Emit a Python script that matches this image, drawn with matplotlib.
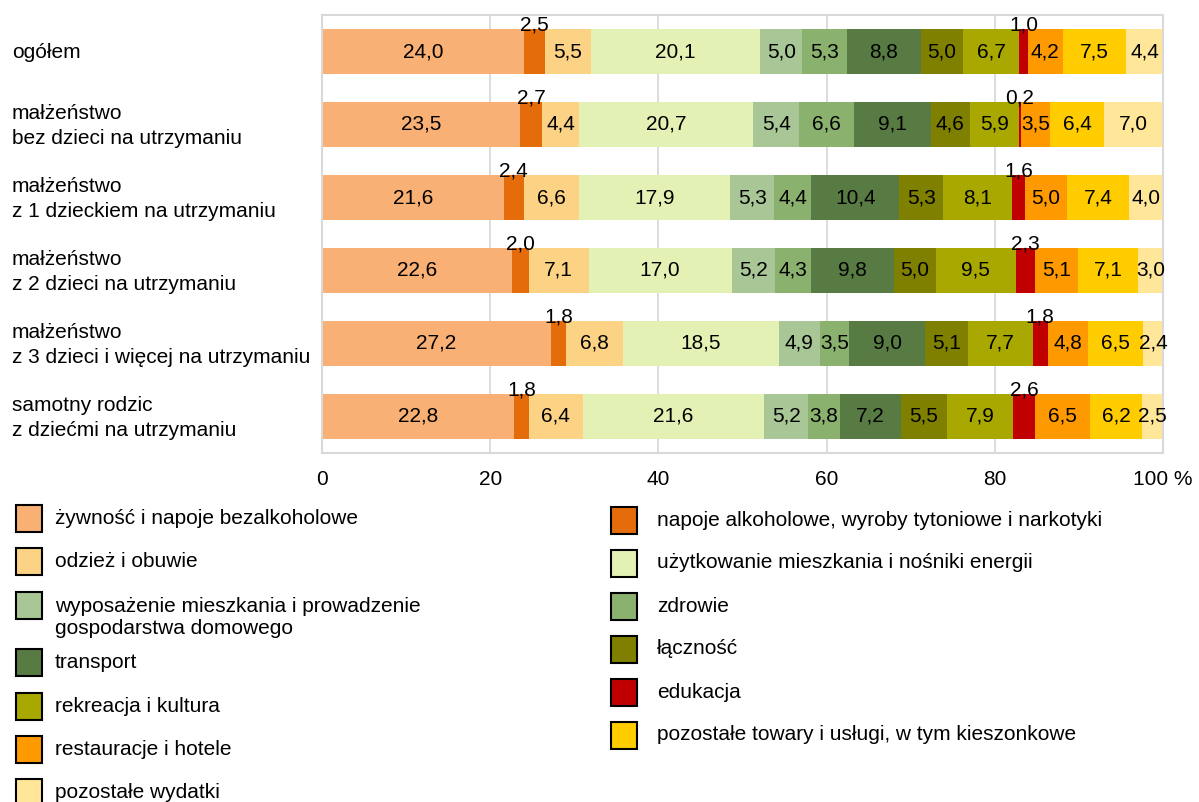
import matplotlib
matplotlib.use('Agg')
import matplotlib.pyplot as plt
import matplotlib.patches as patches
import matplotlib.transforms as mtransforms
import numpy as np

W, H = 1199, 802

plt.rcParams['font.family'] = ['Liberation Sans', 'DejaVu Sans']
plt.rcParams['font.size'] = 15

groups = [
    'ogółem',
    'małżeństwo\nbez dzieci na utrzymaniu',
    'małżeństwo\nz 1 dzieckiem na utrzymaniu',
    'małżeństwo\nz 2 dzieci na utrzymaniu',
    'małżeństwo\nz 3 dzieci i więcej na utrzymaniu',
    'samotny rodzic\nz dziećmi na utrzymaniu',
]

categories = [
    'żywność i napoje bezalkoholowe',
    'napoje alkoholowe, wyroby tytoniowe i narkotyki',
    'odzież i obuwie',
    'użytkowanie mieszkania i nośniki energii',
    'wyposażenie mieszkania i prowadzenie\ngospodarstwa domowego',
    'zdrowie',
    'transport',
    'łączność',
    'rekreacja i kultura',
    'edukacja',
    'restauracje i hotele',
    'pozostałe towary i usługi, w tym kieszonkowe',
    'pozostałe wydatki',
]

colors = ['#F8B074', '#E46C0A', '#FCD384', '#E3F2B4', '#A9C796', '#8AB26E',
          '#587A43', '#7F7F00', '#A8A800', '#C00000', '#FF9900', '#FFCC00',
          '#FFE699']

ogolem = [24.0, 2.5, 5.5, 20.1, 5.0, 5.3, 8.8, 5.0, 6.7, 1.0, 4.2, 7.5, 4.4]
bez_dzieci = [23.5, 2.7, 4.4, 20.7, 5.4, 6.6, 9.1, 4.6, 5.9, 0.2, 3.5, 6.4, 7.0]
jedno_dziecko = [21.6, 2.4, 6.6, 17.9, 5.3, 4.4, 10.4, 5.3, 8.1, 1.6, 5.0, 7.4, 4.0]
dwoje_dzieci = [22.6, 2.0, 7.1, 17.0, 5.2, 4.3, 9.8, 5.0, 9.5, 2.3, 5.1, 7.1, 3.0]
troje_dzieci = [27.2, 1.8, 6.8, 18.5, 4.9, 3.5, 9.0, 5.1, 7.7, 1.8, 4.8, 6.5, 2.4]
samotny = [22.8, 1.8, 6.4, 21.6, 5.2, 3.8, 7.2, 5.5, 7.9, 2.6, 6.5, 6.2, 2.5]

data = np.array([ogolem, bez_dzieci, jedno_dziecko, dwoje_dzieci, troje_dzieci, samotny])

# segments whose value label sits above the bar
label_above = [1, 9]

xticks = [0, 20, 40, 60, 80, 100]
xticklabels = ['0', '20', '40', '60', '80', '100 %']


def fx(x):
    return x / W


def fy(y):
    return 1 - y / H


def fmt(v):
    return f'{v:.1f}'.replace('.', ',')


fig = plt.figure(figsize=(W / 100, H / 100), dpi=100)
ax = fig.add_axes([fx(322), fy(453), fx(1163 - 322), (453 - 15) / H])

bar_h = 0.62
ypos = np.arange(len(groups))
lefts = np.zeros(len(groups))
for j, cat in enumerate(categories):
    vals = data[:, j]
    ax.barh(ypos, vals, left=lefts, height=bar_h, color=colors[j],
            edgecolor='none', zorder=2)
    for i, v in enumerate(vals):
        xc = lefts[i] + v / 2
        if j in label_above:
            ax.text(xc, ypos[i] - bar_h / 2 + 0.02, fmt(v), ha='center',
                    va='baseline', zorder=3)
        else:
            ax.text(xc, ypos[i], fmt(v), ha='center', va='center', zorder=3)
    lefts += vals

ax.set_xlim(0, 100)
ax.set_ylim(len(groups) - 0.5, -0.5)
ax.set_xticks(xticks)
ax.set_xticklabels(xticklabels)
ax.set_yticks([])
ax.tick_params(axis='x', length=0, pad=12)
ax.xaxis.grid(True, color='#D9D9D9', linewidth=1.3, zorder=0)
ax.set_axisbelow(True)
for sp in ax.spines.values():
    sp.set_color('#D9D9D9')
    sp.set_linewidth(1.5)

# row labels on the left
trans = mtransforms.blended_transform_factory(fig.transFigure, ax.transData)
for i, g in enumerate(groups):
    ax.text(fx(12), ypos[i] + 0.02, g, transform=trans, ha='left', va='center',
            linespacing=1.35, clip_on=False)

# legend, two columns, row-major order
left_col = [0, 2, 4, 6, 8, 10, 12]
right_col = [1, 3, 5, 7, 9, 11]


def legend_entry(x_box, x_text, yc, idx):
    rect = patches.Rectangle((fx(x_box), fy(yc + 13.5)), 26 / W, 27 / H,
                             transform=fig.transFigure, facecolor=colors[idx],
                             edgecolor='black', linewidth=1.5)
    fig.add_artist(rect)
    label = categories[idx]
    n_lines = label.count('\n') + 1
    fig.text(fx(x_text), fy(yc + 12.5 * (n_lines - 1)), label, ha='left',
             va='center')


y = 518
for idx in left_col:
    legend_entry(16, 55, y, idx)
    y += 43.5 + (14 if '\n' in categories[idx] else 0)

y = 520
for idx in right_col:
    legend_entry(611, 657, y, idx)
    y += 43

fig.savefig('out.png', dpi=100)
